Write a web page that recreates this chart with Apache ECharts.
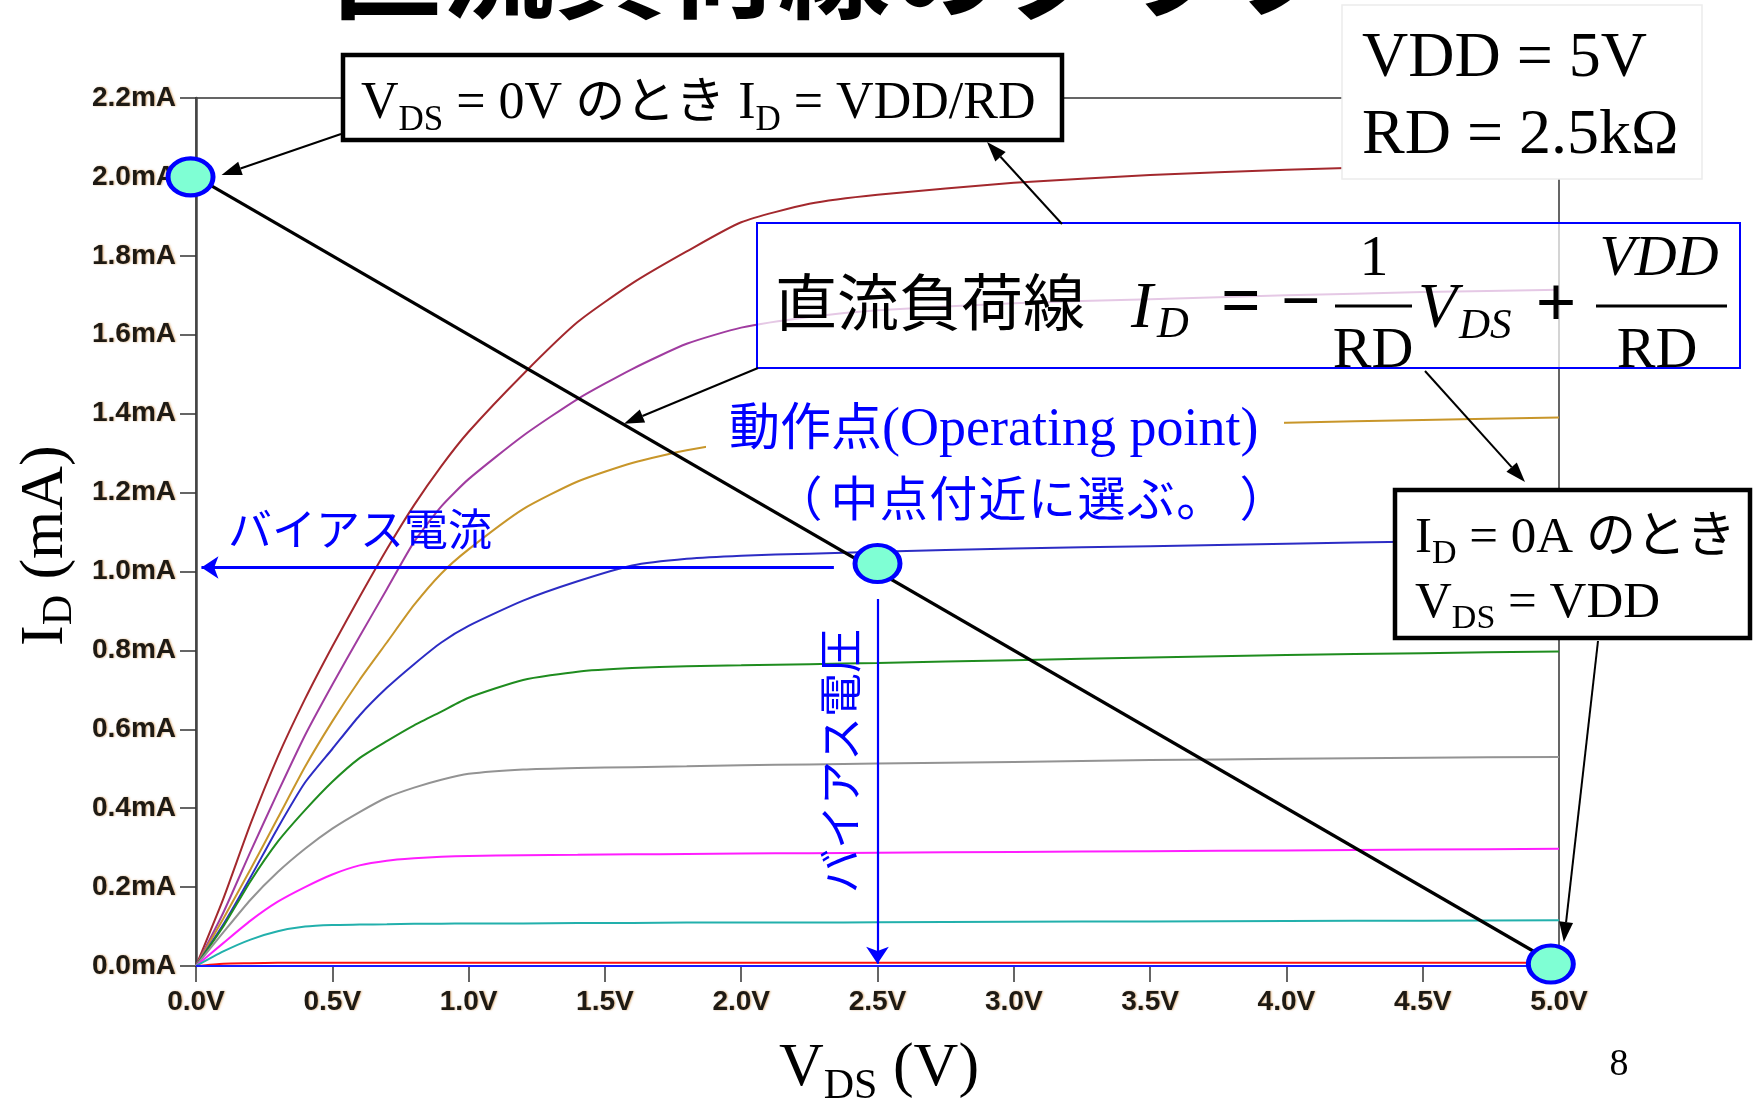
<!DOCTYPE html>
<html>
<head>
<meta charset="utf-8">
<script src="https://cdn.jsdelivr.net/npm/echarts@6/dist/echarts.min.js"></script>
<style>
html,body{margin:0;padding:0;background:#ffffff;}
#chart{width:1753px;height:1104px;}
</style>
</head>
<body>
<div id="chart"></div>
<script>
// ---- MOSFET output characteristics (LTspice sweep), VDS in volts, ID in mA ----
const vds = [0, 0.1, 0.2, 0.3, 0.4, 0.5, 0.6, 0.7, 0.8, 0.9, 1.0, 1.2, 1.4, 1.6, 1.8, 2.0, 2.25, 2.5, 3.0, 3.5, 4.0, 4.5, 5.0];

const idBrown   = [0, 0.17, 0.36, 0.53, 0.677, 0.81, 0.935, 1.056, 1.168, 1.267, 1.354, 1.50, 1.632, 1.73, 1.811, 1.885, 1.932, 1.955, 1.985, 2.005, 2.018, 2.028, 2.035];
const idPurple  = [0, 0.135, 0.29, 0.44, 0.585, 0.713, 0.835, 0.955, 1.075, 1.165, 1.234, 1.344, 1.437, 1.513, 1.577, 1.618, 1.645, 1.662, 1.68, 1.69, 1.70, 1.708, 1.714];
const idGold    = [0, 0.12, 0.245, 0.375, 0.505, 0.62, 0.725, 0.82, 0.915, 0.995, 1.056, 1.158, 1.228, 1.275, 1.307, 1.328, 1.342, 1.352, 1.362, 1.37, 1.377, 1.384, 1.39];
const idBlue    = [0, 0.105, 0.225, 0.35, 0.465, 0.55, 0.635, 0.705, 0.765, 0.82, 0.862, 0.926, 0.975, 1.015, 1.032, 1.04, 1.045, 1.05, 1.058, 1.064, 1.07, 1.076, 1.08];
const idGreen   = [0, 0.10, 0.215, 0.315, 0.395, 0.467, 0.527, 0.57, 0.61, 0.645, 0.68, 0.725, 0.746, 0.755, 0.76, 0.762, 0.765, 0.768, 0.775, 0.782, 0.788, 0.793, 0.797];
const idGray    = [0, 0.085, 0.168, 0.238, 0.297, 0.348, 0.39, 0.427, 0.452, 0.472, 0.487, 0.498, 0.502, 0.504, 0.506, 0.509, 0.511, 0.513, 0.517, 0.522, 0.525, 0.528, 0.53];
const idMagenta = [0, 0.058, 0.115, 0.163, 0.2, 0.232, 0.255, 0.267, 0.273, 0.277, 0.279, 0.281, 0.282, 0.283, 0.284, 0.285, 0.286, 0.287, 0.289, 0.291, 0.293, 0.295, 0.297];
const idCyan    = [0, 0.037, 0.067, 0.088, 0.1, 0.104, 0.105, 0.106, 0.107, 0.107, 0.108, 0.108, 0.109, 0.109, 0.11, 0.11, 0.11, 0.111, 0.112, 0.113, 0.114, 0.115, 0.116];
const idRed     = [0, 0.006, 0.007, 0.008, 0.008, 0.008, 0.008, 0.008, 0.008, 0.008, 0.008, 0.008, 0.008, 0.008, 0.008, 0.008, 0.008, 0.008, 0.008, 0.008, 0.008, 0.008, 0.008];
const idOff     = [0, 0, 0, 0, 0, 0, 0, 0, 0, 0, 0, 0, 0, 0, 0, 0, 0, 0, 0, 0, 0, 0, 0];

// DC load line: VDD = 5 V, RD = 2.5 kΩ -> ID = VDD/RD at VDS = 0, ID = 0 at VDS = VDD
const VDD = 5.0;
const RD = 2.5;            // kΩ, so VDD/RD is in mA
const loadVds = [0, VDD];
const loadId  = [VDD / RD, 0];

// Marked points: the two load-line ends and the operating point
const markVds = [-0.02, 2.5, 4.97];
const markId  = [2.0, 1.02, 0.005];

// Bias arrows
const biasCurrentId = 1.01;               // mA
const biasCurrentFrom = 2.34, biasCurrentTo = 0.02;
const biasVoltageVds = 2.5;               // V
const biasVoltageFrom = 0.93, biasVoltageTo = 0.006;

// Axis ticks
const xTicks = {min: 0, max: 5, step: 0.5};
const yTicks = {min: 0, max: 2.2, step: 0.2};

const curves = [
  {name: 'Vgs8', data: idBrown,   color: '#a3282d'},
  {name: 'Vgs7', data: idPurple,  color: '#a03ca0'},
  {name: 'Vgs6', data: idGold,    color: '#c8962a'},
  {name: 'Vgs5', data: idBlue,    color: '#2c2cc4'},
  {name: 'Vgs4', data: idGreen,   color: '#1f8c1f'},
  {name: 'Vgs3', data: idGray,    color: '#939393'},
  {name: 'Vgs2', data: idMagenta, color: '#ff1eff'},
  {name: 'Vgs1', data: idCyan,    color: '#22b0ac'},
  {name: 'Vgs0', data: idRed,     color: '#ff1010'},
  {name: 'off',  data: idOff,     color: '#1a1aff'}
];

const SERIF = '"Liberation Serif","Times New Roman",serif';
const JP = '"Noto Sans CJK JP","Noto Sans",sans-serif';
const TICKFONT = '"Liberation Sans",Arial,sans-serif';

const chart = echarts.init(document.getElementById('chart'), null, {renderer: 'canvas'});

const tickLabel = {
  fontFamily: TICKFONT, fontWeight: 'bold', fontSize: 28, color: '#1e1a14',
  textShadowColor: 'rgba(190,110,20,0.55)', textShadowBlur: 2, textShadowOffsetX: 1
};

const series = curves.map(c => ({
  name: c.name, type: 'line', showSymbol: false, silent: true,
  smooth: 0.2,
  data: vds.map((v, i) => [v, c.data[i]]),
  lineStyle: {color: c.color, width: 2}, z: 2
}));

series.push({
  name: 'load line', type: 'line', showSymbol: false, silent: true,
  data: loadVds.map((v, i) => [v, loadId[i]]),
  lineStyle: {color: '#000', width: 3.2}, z: 4
});

series.push({
  name: 'bias', type: 'lines', coordinateSystem: 'cartesian2d', silent: true,
  symbol: ['none', 'arrow'], symbolSize: 17,
  lineStyle: {color: '#0000ff', opacity: 1},
  data: [
    {coords: [[biasCurrentFrom, biasCurrentId], [biasCurrentTo, biasCurrentId]], lineStyle: {width: 3.2}},
    {coords: [[biasVoltageVds, biasVoltageFrom], [biasVoltageVds, biasVoltageTo]], lineStyle: {width: 2.2}}
  ],
  z: 3
});

series.push({
  name: 'points', type: 'scatter', silent: true, clip: false,
  symbol: 'circle', symbolSize: [45, 37],
  data: markVds.map((v, i) => [v, markId[i]]),
  itemStyle: {color: '#7fffd4', borderColor: '#0000ff', borderWidth: 4.5, opacity: 1},
  z: 6
});

chart.setOption({
  animation: false,
  backgroundColor: '#ffffff',
  grid: {left: 196, right: 194, top: 98, bottom: 138, show: true, borderColor: '#333', borderWidth: 1.5,
         containLabel: false, outerBoundsMode: 'none'},
  xAxis: {
    type: 'value', min: xTicks.min, max: xTicks.max, interval: xTicks.step,
    axisLine: {show: true, onZero: false, lineStyle: {color: '#333', width: 2}},
    axisTick: {show: true, length: 16, lineStyle: {color: '#333', width: 1.5}},
    splitLine: {show: false},
    axisLabel: Object.assign({margin: 22, formatter: v => v.toFixed(1) + 'V'}, tickLabel)
  },
  yAxis: {
    type: 'value', min: yTicks.min, max: yTicks.max, interval: yTicks.step,
    axisLine: {show: true, onZero: false, lineStyle: {color: '#444', width: 2.5}},
    axisTick: {show: true, length: 16, lineStyle: {color: '#333', width: 1.5}},
    splitLine: {show: false},
    axisLabel: Object.assign({margin: 20, formatter: v => v.toFixed(1) + 'mA'}, tickLabel)
  },
  series: series
});

// ---- text layout helpers ----
const mctx = document.createElement('canvas').getContext('2d');
function fontStr(size, family, italic, bold) {
  return (italic ? 'italic ' : '') + (bold ? 'bold ' : '') + size + 'px ' + family;
}
function textWidth(str, font) { mctx.font = font; return mctx.measureText(str).width; }
// distance from the canvas 'middle' line to the alphabetic baseline
function midToBase(font) {
  mctx.font = font;
  mctx.textBaseline = 'middle';
  const a = mctx.measureText('H').actualBoundingBoxDescent;
  mctx.textBaseline = 'alphabetic';
  const b = mctx.measureText('H').actualBoundingBoxDescent;
  return a - b;
}
function txt(x, base, str, size, family, opt) {
  opt = opt || {};
  const font = fontStr(size, family, opt.italic, opt.bold);
  return {
    type: 'text', x: x, y: base - midToBase(font), z: opt.z || 110, silent: true,
    style: {text: str, font: font, fill: opt.color || '#000', textAlign: opt.align || 'left',
            align: opt.align || 'left', textVerticalAlign: 'middle', verticalAlign: 'middle'}
  };
}
// lay out a sequence of runs on a common baseline
function run(x0, base, parts, color) {
  let x = x0;
  const els = [];
  parts.forEach(p => {
    const font = fontStr(p.size, p.family, p.italic, p.bold);
    els.push(txt(x, base + (p.dy || 0), p.t, p.size, p.family, {italic: p.italic, bold: p.bold, color: p.color || color}));
    x += textWidth(p.t, font);
  });
  return {els: els, width: x - x0};
}
function runCentered(cx, base, parts, color) {
  const w = run(0, 0, parts, color).width;
  return run(cx - w / 2, base, parts, color);
}
// full-width characters on a fixed pitch (keeps bracket spacing intact)
function grid(x0, base, chars, size, pitch, color) {
  return chars.map((c, i) => {
    if (c === '（') return txt(x0 + (i + 1) * pitch - 8, base, c, size, JP, {color: color, align: 'right'});
    if (c === '）') return txt(x0 + i * pitch + 14, base, c, size, JP, {color: color});
    return txt(x0 + i * pitch, base, c, size, JP, {color: color});
  });
}
function arrow(x1, y1, x2, y2, color, w) {
  const a = Math.atan2(y2 - y1, x2 - x1), L = 20, H = 7;
  const bx = x2 - L * Math.cos(a), by = y2 - L * Math.sin(a);
  const px = -Math.sin(a) * H, py = Math.cos(a) * H;
  return [
    {type: 'line', silent: true, z: 120, shape: {x1: x1, y1: y1, x2: bx, y2: by}, style: {stroke: color, lineWidth: w}},
    {type: 'polygon', silent: true, z: 120, shape: {points: [[x2, y2], [bx + px, by + py], [bx - px, by - py]]}, style: {fill: color}}
  ];
}
function rect(x, y, w, h, fill, stroke, lw, z) {
  return {type: 'rect', silent: true, z: z || 100, shape: {x: x, y: y, width: w, height: h},
          style: {fill: fill, stroke: stroke, lineWidth: lw}};
}
function hline(x1, x2, y, w) {
  return {type: 'line', silent: true, z: 110, shape: {x1: x1, y1: y, x2: x2, y2: y}, style: {stroke: '#000', lineWidth: w}};
}
const px = (v, i) => chart.convertToPixel({gridIndex: 0}, [v, i]);

// ---- annotations ----
const G = [];

// page title (runs off the top edge)
G.push(...runCentered(834, 10, [{t: '直流負荷線のグラフ', size: 112, family: JP, bold: true}]).els);

// box: VDS = 0V のとき ID = VDD/RD
G.push(rect(343, 55, 719, 85, '#fff', '#000', 4.5));
G.push(...run(361, 118, [
  {t: 'V', size: 52, family: SERIF},
  {t: 'DS', size: 35, family: SERIF, dy: 12},
  {t: ' = 0V ', size: 52, family: SERIF},
  {t: 'のとき', size: 50, family: JP},
  {t: ' I', size: 52, family: SERIF},
  {t: 'D', size: 35, family: SERIF, dy: 12},
  {t: ' = VDD/RD', size: 52, family: SERIF}
]).els);

// circuit constants
G.push(rect(1342, 5, 360, 174, '#fff', '#ececec', 1.5));
G.push(...run(1362, 76, [{t: 'VDD = 5V', size: 64, family: SERIF}]).els);
G.push(...run(1362, 153, [{t: 'RD = 2.5kΩ', size: 64, family: SERIF}]).els);

// load-line equation
G.push(rect(757, 223, 983, 145, 'rgba(255,255,255,0.72)', '#0000ff', 2));
G.push(...run(775, 326, [{t: '直流負荷線', size: 62, family: JP}]).els);
G.push(txt(1131, 327, 'I', 66, SERIF, {italic: true}));
G.push(txt(1157, 337, 'D', 44, SERIF, {italic: true}));
G.push(txt(1241, 324, '=', 70, SERIF, {align: 'center', bold: true}));
G.push(txt(1301, 324, '\u2212', 70, SERIF, {align: 'center', bold: true}));
G.push(hline(1335, 1412, 306, 3));
G.push(txt(1374, 275, '1', 58, SERIF, {align: 'center'}));
G.push(txt(1373, 367, 'RD', 58, SERIF, {align: 'center'}));
G.push(txt(1418, 327, 'V', 64, SERIF, {italic: true}));
G.push(txt(1459, 338, 'DS', 43, SERIF, {italic: true}));
G.push(txt(1556, 326, '+', 72, SERIF, {align: 'center', bold: true}));
G.push(hline(1596, 1727, 306, 3));
G.push(txt(1659, 275, 'VDD', 58, SERIF, {italic: true, align: 'center'}));
G.push(txt(1657, 367, 'RD', 58, SERIF, {align: 'center'}));

// box: ID = 0A のとき VDS = VDD
G.push(rect(1395, 490, 355, 148, '#fff', '#000', 4.5));
G.push(...run(1415, 552, [
  {t: 'I', size: 51, family: SERIF},
  {t: 'D', size: 34, family: SERIF, dy: 11},
  {t: ' = 0A ', size: 51, family: SERIF},
  {t: 'のとき', size: 50, family: JP}
]).els);
G.push(...run(1415, 617, [
  {t: 'V', size: 51, family: SERIF},
  {t: 'DS', size: 34, family: SERIF, dy: 11},
  {t: ' = VDD', size: 51, family: SERIF}
]).els);

// operating point label (on a white backing)
G.push(rect(706, 398, 578, 62, '#fff', null, 0, 105));
G.push(...run(729, 445, [
  {t: '動作点', size: 51, family: JP},
  {t: '(Operating point)', size: 54, family: SERIF}
], '#0000ff').els);
G.push(...grid(781, 516, ['（', '中', '点', '付', '近', 'に', '選', 'ぶ', '。', '）'], 48, 49.4, '#0000ff'));

// bias labels
G.push(...run(228, 546, [{t: 'バイアス電流', size: 44, family: JP}], '#0000ff').els);
G.push({type: 'group', x: 857, y: 761, rotation: Math.PI / 2, silent: true,
        children: runCentered(0, 0, [{t: 'バイアス電圧', size: 44, family: JP}], '#0000ff').els});

// axis titles
G.push({type: 'group', x: 62, y: 646, rotation: Math.PI / 2, silent: true,
        children: run(0, 0, [
          {t: 'I', size: 62, family: SERIF},
          {t: 'D', size: 42, family: SERIF, dy: 9},
          {t: ' (mA)', size: 62, family: SERIF}
        ]).els});
G.push(...run(779, 1085, [
  {t: 'V', size: 62, family: SERIF},
  {t: 'DS', size: 42, family: SERIF, dy: 13},
  {t: ' (V)', size: 62, family: SERIF}
]).els);

// slide number
G.push(txt(1619, 1075, '8', 38, SERIF, {align: 'center'}));

// callout arrows
const pStart = px(markVds[0], markId[0]);
const pEnd = px(markVds[2], markId[2]);
const vOnLoad = 1.57;
const pLoad = px(vOnLoad, (VDD - vOnLoad) / RD);
G.push(...arrow(341, 134, pStart[0] + 31, pStart[1] - 2, '#000', 2));
G.push(...arrow(1062, 224, 987, 142, '#000', 2));
G.push(...arrow(758, 368, pLoad[0], pLoad[1] - 1, '#000', 2));
G.push(...arrow(1425, 371, 1525, 482, '#000', 2));
G.push(...arrow(1598, 641, pEnd[0] + 13, pEnd[1] - 22, '#000', 2));

chart.setOption({graphic: {elements: G}});
</script>
</body>
</html>
